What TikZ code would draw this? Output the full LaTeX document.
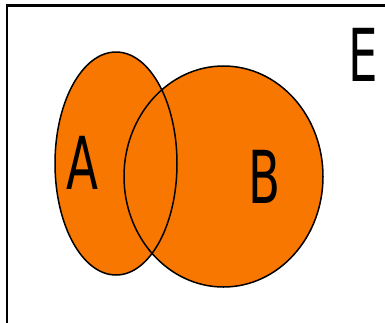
\documentclass[tikz,border=0pt]{standalone}
\usepackage{fontspec}
\setmainfont{DejaVu Sans}
\usepackage{tikz}
\usetikzlibrary{positioning}
\usepackage{xcolor}
\definecolor{setfill}{HTML}{F77700}
\definecolor{ink}{HTML}{000000}

\tikzset{
  setlabel/.style={font=\fontsize{73}{73}\selectfont, text=ink, inner sep=0pt, xscale=0.64, transform shape}
}

\begin{document}
\begin{tikzpicture}[x=1pt, y=-1pt]
    \useasboundingbox (0,0) rectangle (385,322);
    \clip (0,0) rectangle (385,322);
    % universe frame
    \draw[line width=2.5pt, ink] (7,5.5) rectangle (400,340);
    % sets
    \fill[setfill] (116,163.5) ellipse [x radius=61, y radius=111.5];
    \fill[setfill] (223.5,176.5) ellipse [x radius=99.5, y radius=110.5];
    \draw[line width=1.5pt, ink] (116,163.5) ellipse [x radius=61, y radius=111.5];
    \draw[line width=1.5pt, ink] (223.5,176.5) ellipse [x radius=99.5, y radius=110.5];
    % labels
    \node[setlabel] (labA) at (82.5,162.5) {A};
    \node[setlabel] (labB) at (265,176.5) {B};
    \node[setlabel] (labE) at (363,54.5) {E};
  \end{tikzpicture}
\end{document}
